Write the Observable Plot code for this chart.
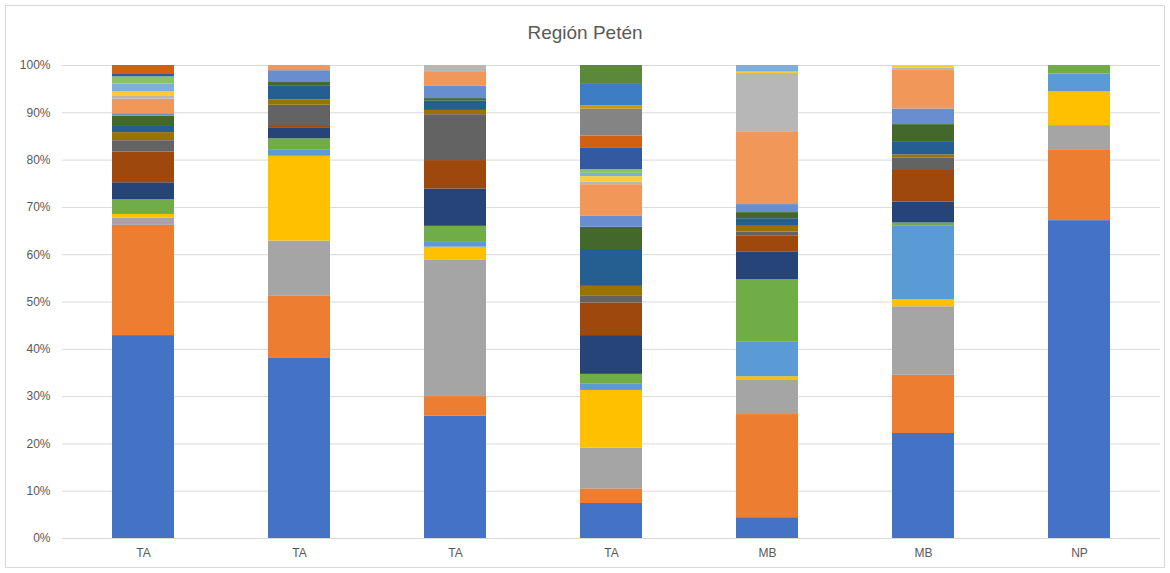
<!DOCTYPE html>
<html>
<head>
<meta charset="utf-8">
<script src="https://cdn.jsdelivr.net/npm/d3@7"></script>
<script src="https://cdn.jsdelivr.net/npm/@observablehq/plot@0.6"></script>
<style>
  html, body { margin: 0; padding: 0; background: #fff; }
  #wrap { position: relative; width: 1170px; height: 573px; font-family: "Liberation Sans", Arial, sans-serif; }
  #frame { position: absolute; left: 5px; top: 5px; width: 1158px; height: 561px; border: 1px solid #D9D9D9; pointer-events: none; }
  #title { height: 50px; box-sizing: border-box; padding-top: 22px; text-align: center; font-size: 19px; line-height: 22px; color: #595959; }
  svg { display: block; }
</style>
</head>
<body>
<div id="wrap">
  <div id="frame"></div>
  <div id="title">Región Petén</div>
  <div id="chart"></div>
</div>
<script>
const columns = ["TA", "TA", "TA", "TA", "MB", "MB", "NP"];
const yTicks = [0, 0.1, 0.2, 0.3, 0.4, 0.5, 0.6, 0.7, 0.8, 0.9, 1];

const colors = [
  "#4472C4", "#ED7D31", "#A5A5A5", "#FFC000", "#5B9BD5", "#70AD47",
  "#264478", "#9E480E", "#636363", "#997300", "#255E91", "#43682B",
  "#698ED0", "#F1975A", "#B7B7B7", "#FFCD33", "#7CAFDD", "#8CC168",
  "#335AA1", "#D26012", "#848484", "#CC9A00", "#3C7DC4", "#5A8A39"
];

// percent per column (7 columns), series 1 at bottom
const s1  = [42.9, 38.2, 25.9, 7.4, 4.4, 22.2, 67.2];
const s2  = [23.3, 13.1, 4.1, 3.1, 21.8, 12.3, 15.0];
const s3  = [1.5, 11.6, 28.8, 8.6, 7.2, 14.5, 5.1];
const s4  = [0.8, 17.9, 2.8, 12.2, 0.8, 1.5, 7.1];
const s5  = [0.2, 1.4, 1.0, 1.3, 7.4, 15.5, 3.8];
const s6  = [2.9, 2.3, 3.4, 2.1, 13.1, 0.7, 1.8];
const s7  = [3.6, 2.2, 7.9, 8.2, 5.8, 4.4, 0];
const s8  = [6.5, 0.4, 6.0, 6.9, 3.4, 6.7, 0];
const s9  = [2.4, 4.5, 9.7, 1.4, 0.9, 2.6, 0];
const s10 = [1.7, 1.1, 0.9, 2.1, 1.2, 0.7, 0];
const s11 = [1.5, 2.9, 2.0, 7.8, 1.6, 2.8, 0];
const s12 = [2.0, 0.8, 0.5, 4.7, 1.3, 3.6, 0];
const s13 = [0.5, 2.5, 2.6, 2.3, 1.7, 3.3, 0];
const s14 = [3.1, 1.1, 3.1, 6.7, 15.4, 8.3, 0];
const s15 = [0.7, 0, 1.3, 0.6, 12.3, 0.3, 0];
const s16 = [0.8, 0, 0, 1.1, 0.3, 0.6, 0];
const s17 = [1.7, 0, 0, 0.7, 1.4, 0, 0];
const s18 = [1.5, 0, 0, 0.8, 0, 0, 0];
const s19 = [0.5, 0, 0, 4.6, 0, 0, 0];
const s20 = [1.9, 0, 0, 2.5, 0, 0, 0];
const s21 = [0, 0, 0, 5.7, 0, 0, 0];
const s22 = [0, 0, 0, 0.7, 0, 0, 0];
const s23 = [0, 0, 0, 4.5, 0, 0, 0];
const s24 = [0, 0, 0, 4.0, 0, 0, 0];

const series = [s1, s2, s3, s4, s5, s6, s7, s8, s9, s10, s11, s12,
                s13, s14, s15, s16, s17, s18, s19, s20, s21, s22, s23, s24];

const data = [];
series.forEach((vals, s) => {
  vals.forEach((v, c) => {
    if (v > 0) data.push({col: c, series: s, value: v / 100});
  });
});

const chart = Plot.plot({
  width: 1170,
  height: 523,
  marginTop: 15,
  marginBottom: 35,
  marginLeft: 62,
  marginRight: 10,
  style: { fontFamily: "'Liberation Sans', Arial, sans-serif", fontSize: "12px", color: "#595959", background: "transparent" },
  x: { domain: d3.range(columns.length), paddingInner: 0.6, paddingOuter: 0.3, label: null },
  y: { domain: [0, 1], label: null },
  color: { domain: d3.range(colors.length), range: colors },
  marks: [
    Plot.gridY(yTicks, { stroke: "#D9D9D9", strokeOpacity: 1 }),
    Plot.barY(data, { x: "col", y: "value", fill: "series" }),
    Plot.ruleY([0], { stroke: "#D9D9D9" }),
    Plot.axisY(yTicks, { tickSize: 0, tickPadding: 12, tickFormat: d3.format(".0%"), label: null, fill: "#595959" }),
    Plot.axisX({ tickSize: 0, tickPadding: 10, tickFormat: i => columns[i], label: null, fill: "#595959" })
  ]
});
document.getElementById("chart").appendChild(chart);
</script>
</body>
</html>
